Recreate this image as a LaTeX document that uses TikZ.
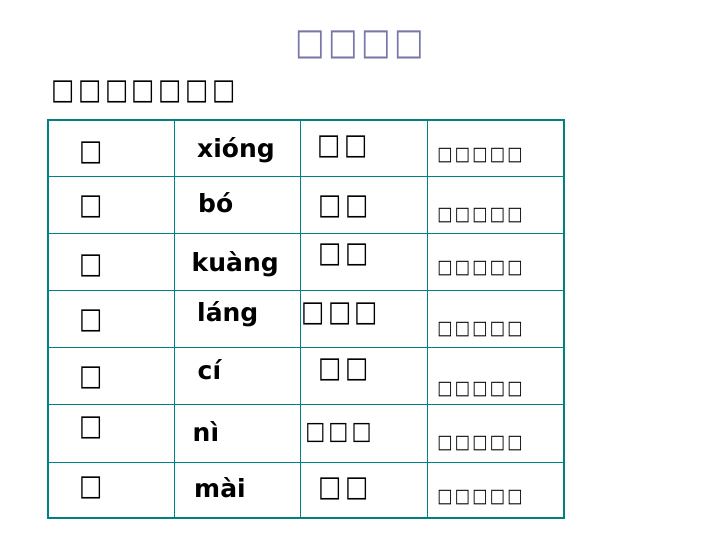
\documentclass[tikz,border=0pt]{standalone}
\usepackage{fontspec}
\setmainfont{DejaVu Sans}
\newfontfamily\boxfont[FakeStretch=0.85,LetterSpace=12]{DejaVu Sans}
\newfontfamily\titlefont[FakeStretch=0.85,LetterSpace=9]{DejaVu Sans}
\usepackage{tikz}
\definecolor{gridteal}{RGB}{0,128,128}
\definecolor{titleblue}{RGB}{119,119,170}
\tikzstyle{gridline}=[
      draw = gridteal,
      line width = 1pt
      ]
\tikzstyle{gridframe}=[
      draw = gridteal,
      line width = 2.2pt
      ]
\tikzstyle{pinyin}=[
      anchor = base west,
      inner sep = 0pt,
      font = \bfseries\fontsize{25}{25}\selectfont
      ]
\tikzstyle{bigglyph}=[
      inner sep = 0pt,
      font = \boxfont\fontsize{29}{29}\selectfont
      ]
\tikzstyle{smallglyph}=[
      inner sep = 0pt,
      font = \boxfont\fontsize{19}{19}\selectfont
      ]
\begin{document}
\begin{tikzpicture}[x=1pt,y=-1pt]
\useasboundingbox (0,0) rectangle (720,540);

% heading lines
\node [bigglyph, font=\titlefont\fontsize{36.8}{36.8}\selectfont, text=titleblue] (title) at (360,45) {□□□□};
\node [bigglyph] (subtitle) at (143.5,92) {□□□□□□□};

% table grid
\foreach \y in {177,233,290,347,404,462}
  \draw [gridline] (48,\y) -- (564,\y);
\foreach \x in {174,300,427}
  \draw [gridline] (\x,120) -- (\x,518);
\draw [gridframe] (48,120) rectangle (564,518);

% first column
\node [bigglyph] (char1) at (91.5,153) {□};
\node [bigglyph] (char2) at (91.5,207) {□};
\node [bigglyph] (char3) at (91.5,266) {□};
\node [bigglyph] (char4) at (91.5,321) {□};
\node [bigglyph] (char5) at (91.5,378) {□};
\node [bigglyph] (char6) at (91.5,428) {□};
\node [bigglyph] (char7) at (91.5,488) {□};

% pinyin
\node [pinyin] (pin1) at (197,158) {xióng};
\node [pinyin] (pin2) at (198,213) {bó};
\node [pinyin] (pin3) at (191.5,271.5) {kuàng};
\node [pinyin] (pin4) at (197,321.5) {láng};
\node [pinyin] (pin5) at (197.5,379.5) {cí};
\node [pinyin] (pin6) at (192.5,441.5) {nì};
\node [pinyin] (pin7) at (194,497.5) {mài};

% words
\node [bigglyph] (word1) at (342.5,146.5) {□□};
\node [bigglyph] (word2) at (343.5,207) {□□};
\node [bigglyph] (word3) at (343.5,255) {□□};
\node [bigglyph] (word4) at (339.7,313.5) {□□□};
\node [bigglyph] (word5) at (343.3,370) {□□};
\node [bigglyph, font=\boxfont\fontsize{25}{25}\selectfont] (word6) at (338.5,432.7) {□□□};
\node [bigglyph] (word7) at (343.5,489) {□□};

% notes
\node [smallglyph] (note1) at (480,156) {□□□□□};
\node [smallglyph] (note2) at (480,215.5) {□□□□□};
\node [smallglyph] (note3) at (480,269) {□□□□□};
\node [smallglyph] (note4) at (480,330) {□□□□□};
\node [smallglyph] (note5) at (480,390) {□□□□□};
\node [smallglyph] (note6) at (480,444) {□□□□□};
\node [smallglyph] (note7) at (480,498) {□□□□□};
\end{tikzpicture}
\end{document}
